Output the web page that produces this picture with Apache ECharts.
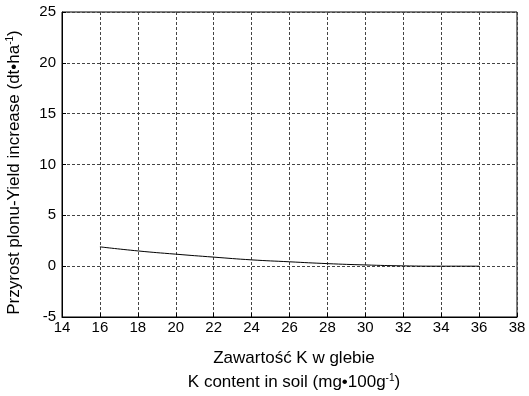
<!DOCTYPE html>
<html>
<head>
<meta charset="utf-8">
<script src="https://cdn.jsdelivr.net/npm/echarts@6/dist/echarts.min.js"></script>
<style>
  html, body {margin: 0; padding: 0; background: #fff;}
  #chart {width: 529px; height: 396px;}
</style>
</head>
<body>
<div id="chart"></div>
<script>
// dane
var kContent = [16, 18, 20, 22, 24, 26, 28, 30, 32, 34, 36];
var yieldIncrease = [1.9, 1.5, 1.18, 0.89, 0.62, 0.43, 0.25, 0.12, 0.03, 0.0, 0.0];

var font = 'Liberation Sans, Arial, sans-serif';

var points = kContent.map(function (k, i) { return [k, yieldIncrease[i]]; });

var chart = echarts.init(document.getElementById('chart'));

chart.setOption({
  backgroundColor: '#fff',
  animation: false,
  grid: {
    left: 62, right: 12, top: 12, bottom: 79,
    outerBoundsMode: 'none',
    show: true, borderColor: '#000', borderWidth: 1
  },
  xAxis: {
    type: 'value', min: 14, max: 38, interval: 2,
    axisLine: {show: true, onZero: false, lineStyle: {color: '#000'}},
    axisTick: {show: true, inside: true, length: 4, lineStyle: {color: '#000'}},
    axisLabel: {color: '#000', fontSize: 15, fontFamily: font, margin: 3},
    splitLine: {show: true, lineStyle: {color: '#444', type: [3, 2], width: 1}}
  },
  yAxis: {
    type: 'value', min: -5, max: 25, interval: 5,
    axisLine: {show: true, lineStyle: {color: '#000'}},
    axisTick: {show: true, inside: true, length: 4, lineStyle: {color: '#000'}},
    axisLabel: {color: '#000', fontSize: 15, fontFamily: font, margin: 6},
    splitLine: {show: true, lineStyle: {color: '#444', type: [3, 2], width: 1}},
    name: '{n|Przyrost plonu-Yield increase (dt\u2022ha}{s|-1}{n|)}',
    nameLocation: 'middle',
    nameGap: 38,
    nameTextStyle: {
      padding: [0, 16, 0, 0],
      rich: {
        n: {fontSize: 17, fontFamily: font, color: '#000'},
        s: {fontSize: 10, fontFamily: font, color: '#000', verticalAlign: 'top', padding: [0, 0, 9, 0]}
      }
    }
  },
  title: {
    text: 'Zawarto\u015b\u0107 K w glebie',
    subtext: '{n|K content in soil (mg\u2022100g}{s|-1}{n|)}',
    left: 289, top: 345, textAlign: 'center', itemGap: 6,
    textStyle: {fontSize: 17, fontWeight: 'normal', fontFamily: font, color: '#000'},
    subtextStyle: {
      rich: {
        n: {fontSize: 17, fontFamily: font, color: '#000'},
        s: {fontSize: 10, fontFamily: font, color: '#000', verticalAlign: 'top', padding: [0, 0, 9, 0]}
      }
    }
  },
  series: [{
    type: 'line',
    data: points,
    smooth: true,
    showSymbol: false,
    lineStyle: {color: '#000', width: 1}
  }]
});
</script>
</body>
</html>
